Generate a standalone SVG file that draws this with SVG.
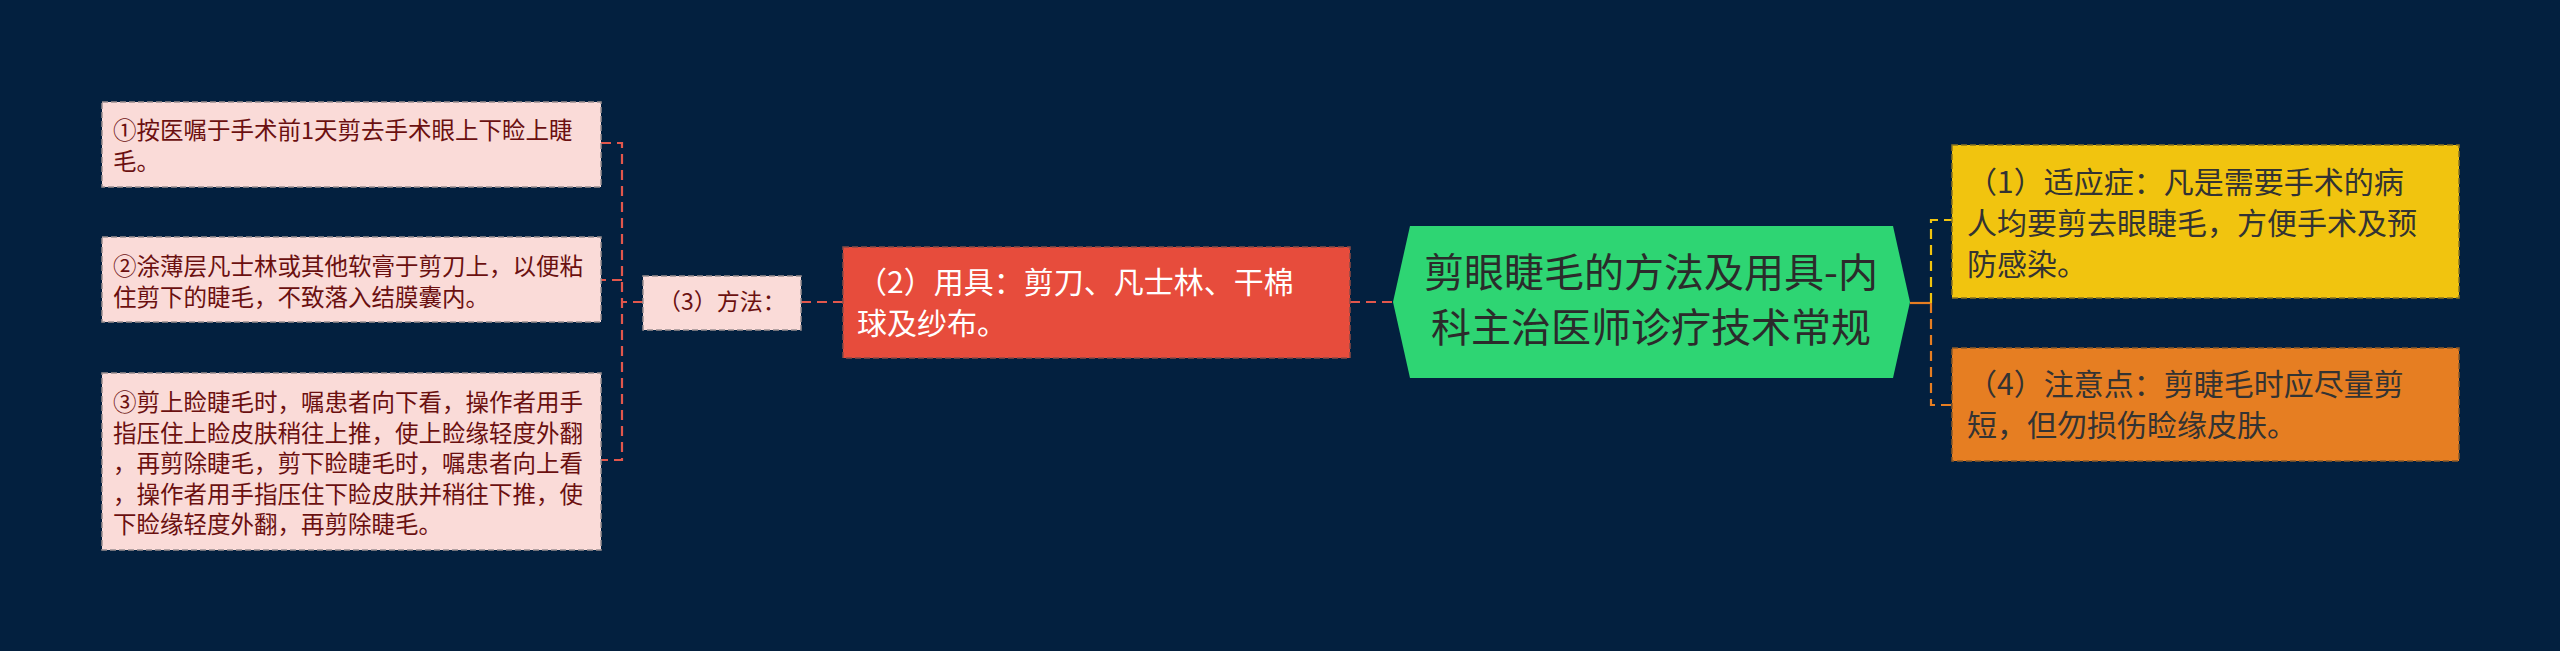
<svg xmlns="http://www.w3.org/2000/svg" width="2560" height="651" viewBox="0 0 2560 651">
<style>
text { font-family: "Noto Sans CJK SC", "Noto Sans", sans-serif; }
.leaf rect { fill: #fadbd8; stroke: #9b8f90; stroke-width: 1.5; stroke-dasharray: 6 3; }
.leaf text { fill: #6b1010; font-size: 23.5px; }
.conn { fill: none; stroke-width: 2.2; }
.red { stroke: #e2574c; stroke-dasharray: 10 6; }
</style>
<rect x="0" y="0" width="2560" height="651" fill="#03203f"/>
<g id="connectors">
  <path class="conn red" d="M601 143 H622 V460 H601"/>
  <path class="conn red" d="M622 280 H601"/>
  <path class="conn red" d="M643 302 H622"/>
  <path class="conn red" d="M801 302 H843"/>
  <path class="conn red" d="M1350 302 H1393"/>
  <path class="conn" stroke="#e67e22" d="M1910 303 H1931"/>
  <path class="conn" stroke="#f1c40f" stroke-dasharray="10 6" d="M1931 303 V220 H1952"/>
  <path class="conn" stroke="#e67e22" stroke-dasharray="10 6" d="M1931 303 V405 H1952"/>
</g>
<g id="root">
  <polygon points="1393,302 1410,226 1893,226 1910,302 1893,378 1410,378" fill="#2ed573"/>
  <text x="1651" y="287" font-size="40" fill="#2b2b2b" text-anchor="middle">剪眼睫毛的方法及用具-内</text>
  <text x="1651" y="342" font-size="40" fill="#2b2b2b" text-anchor="middle">科主治医师诊疗技术常规</text>
</g>
<g id="indication">
  <rect x="1952" y="145" width="507" height="153" fill="#f1c40f" stroke="#8a7420" stroke-width="1.5" stroke-dasharray="6 3"/>
  <text font-size="30" fill="#333333"><tspan x="1967" y="192.5">（1）适应症：凡是需要手术的病</tspan><tspan x="1967" y="233.5">人均要剪去眼睫毛，方便手术及预</tspan><tspan x="1967" y="274.5">防感染。</tspan></text>
</g>
<g id="notes">
  <rect x="1952" y="348" width="507" height="113" fill="#e67e22" stroke="#8a5a2a" stroke-width="1.5" stroke-dasharray="6 3"/>
  <text font-size="30" fill="#333333"><tspan x="1967" y="394.5">（4）注意点：剪睫毛时应尽量剪</tspan><tspan x="1967" y="435.5">短，但勿损伤睑缘皮肤。</tspan></text>
</g>
<g id="tools">
  <rect x="843" y="247" width="507" height="111" fill="#e74c3c" stroke="#8c4a45" stroke-width="1.5" stroke-dasharray="6 3"/>
  <text font-size="30" fill="#ffffff"><tspan x="857" y="292.5">（2）用具：剪刀、凡士林、干棉</tspan><tspan x="857" y="333.5">球及纱布。</tspan></text>
</g>
<g id="method" class="leaf">
  <rect x="643" y="276" width="158" height="54"/>
  <text x="722" y="310" text-anchor="middle" style="font-size:23px">（3）方法：</text>
</g>
<g id="step1" class="leaf">
  <rect x="102" y="102" width="499" height="85"/>
  <text><tspan x="113" y="139">①按医嘱于手术前1天剪去手术眼上下睑上睫</tspan><tspan x="113" y="169.5">毛。</tspan></text>
</g>
<g id="step2" class="leaf">
  <rect x="102" y="237" width="499" height="85"/>
  <text><tspan x="113" y="275">②涂薄层凡士林或其他软膏于剪刀上，以便粘</tspan><tspan x="113" y="305.5">住剪下的睫毛，不致落入结膜囊内。</tspan></text>
</g>
<g id="step3" class="leaf">
  <rect x="102" y="373" width="499" height="177"/>
  <text><tspan x="113" y="411">③剪上睑睫毛时，嘱患者向下看，操作者用手</tspan><tspan x="113" y="441.5">指压住上睑皮肤稍往上推，使上睑缘轻度外翻</tspan><tspan x="113" y="472">，再剪除睫毛，剪下睑睫毛时，嘱患者向上看</tspan><tspan x="113" y="502.5">，操作者用手指压住下睑皮肤并稍往下推，使</tspan><tspan x="113" y="533">下睑缘轻度外翻，再剪除睫毛。</tspan></text>
</g>
</svg>
